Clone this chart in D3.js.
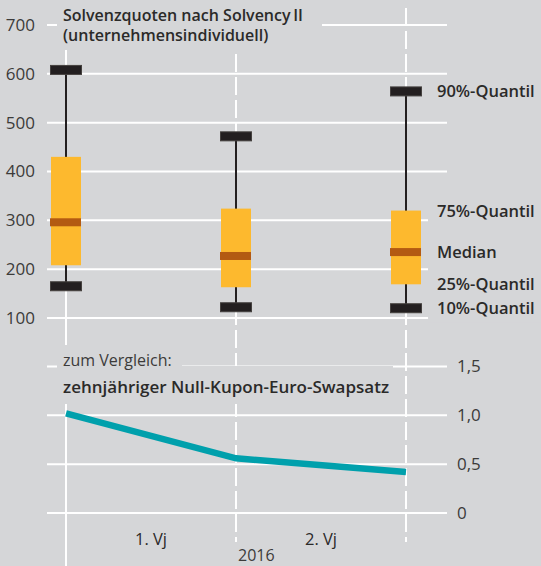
<!DOCTYPE html>
<html>
<head>
<meta charset="utf-8">
<script src="https://cdn.jsdelivr.net/npm/d3@7"></script>
<style>
	body { margin: 0; background: #d5d6d8; }
	svg { display: block; font-family: "Open Sans", "Noto Sans", sans-serif; }
</style>
</head>
<body>
<svg id="vis" width="541" height="566"></svg>
<script>
// Stichtage (Ende des jeweiligen Zeitraums)
const dates = ["01.01.2016", "31.03.2016", "30.06.2016"];

// Solvenzquoten in %, Quantile je Stichtag
const q10 = [165, 122, 120];
const q25 = [208, 163, 169];
const median = [296, 227, 235];
const q75 = [430, 324, 320];
const q90 = [608, 472, 564];

// zehnjaehriger Null-Kupon-Euro-Swapsatz in %
const swap = [1.02, 0.56, 0.42];

const upperTicks = [100, 200, 300, 400, 500, 600, 700];
const lowerTicks = [0, 0.5, 1, 1.5];
const halfYears = ["1. Vj", "2. Vj"];
const quantileLabels = ["90%-Quantil", "75%-Quantil", "Median", "25%-Quantil", "10%-Quantil"];

const bg = "#d5d6d8";
const textColor = "#2b2a29";

let drawChart = function() {
	const svg = d3.select("svg#vis");

	const x = d3.scalePoint()
		.domain(dates)
		.range([66, 406]);

	const y = d3.scaleLinear()
		.domain([100, 700])
		.range([318, 25]);

	const y2 = d3.scaleLinear()
		.domain([0, 1.5])
		.range([513, 366.5]);

	const comma = d3.formatLocale({decimal: ",", thousands: ".", grouping: [3], currency: ["", " €"]});
	const fmt = d => d === 0 ? "0" : comma.format(".1f")(d);

	svg.append("rect")
		.attr("width", 541)
		.attr("height", 566)
		.attr("fill", bg);

	// horizontal grid, upper and lower panel
	const grid = svg.append("g").attr("stroke", "#fff").attr("stroke-width", 2);
	grid.selectAll("line.up")
		.data(upperTicks)
		.enter()
		.append("line")
		.attr("class", "up")
		.attr("x1", 47).attr("x2", 447)
		.attr("y1", d => y(d)).attr("y2", d => y(d));
	grid.selectAll("line.low")
		.data(lowerTicks)
		.enter()
		.append("line")
		.attr("class", "low")
		.attr("x1", 47).attr("x2", 447)
		.attr("y1", d => y2(d)).attr("y2", d => y2(d));

	// vertical separators (first one solid)
	grid.selectAll("line.v")
		.data(dates)
		.enter()
		.append("line")
		.attr("class", "v")
		.attr("x1", d => x(d)).attr("x2", d => x(d))
		.attr("y1", 8)
		.attr("y2", (d, i) => i === 0 ? 566 : 542)
		.attr("stroke-dasharray", (d, i) => i === 0 ? null : "18,5");

	// backgrounds behind texts, they cut the grid
	const masks = svg.append("g").attr("fill", bg);
	masks.append("rect").attr("x", 57).attr("y", 0).attr("width", 265).attr("height", 50);
	masks.append("rect").attr("x", 57).attr("y", 345).attr("width", 125).attr("height", 28);
	masks.append("rect").attr("x", 57).attr("y", 366).attr("width", 336).attr("height", 38);
	const last = dates.length - 1;
	masks.append("rect")
		.attr("x", 428)
		.attr("y", y(q75[last]) - 14)
		.attr("width", 113)
		.attr("height", y(q10[last]) - y(q75[last]) + 28);

	// swap rate line
	const line = d3.line()
		.x((d, i) => x(dates[i]))
		.y(d => y2(d));
	svg.append("path")
		.datum(swap)
		.attr("d", line)
		.attr("fill", "none")
		.attr("stroke", "#00a0ac")
		.attr("stroke-width", 6.5);

	// box plots
	const boxes = svg.append("g")
		.selectAll("g.box")
		.data(dates)
		.enter()
		.append("g")
		.attr("class", "box")
		.attr("transform", d => translate(x(d), 0));

	boxes.append("line")
		.attr("y1", (d, i) => y(q10[i]))
		.attr("y2", (d, i) => y(q90[i]))
		.attr("stroke", "#231f20")
		.attr("stroke-width", 2);

	boxes.append("rect")
		.attr("x", -15)
		.attr("width", 30)
		.attr("y", (d, i) => y(q75[i]))
		.attr("height", (d, i) => y(q25[i]) - y(q75[i]))
		.attr("fill", "#fdb92e");

	boxes.append("rect")
		.attr("x", -16)
		.attr("width", 31)
		.attr("y", (d, i) => y(median[i]) - 4)
		.attr("height", 8)
		.attr("fill", "#b35a12");

	[q10, q90].forEach(function(q) {
		boxes.append("rect")
			.attr("x", -15.5)
			.attr("width", 31)
			.attr("y", (d, i) => y(q[i]) - 4.5)
			.attr("height", 9)
			.attr("fill", "#231f20")
			.attr("stroke", "#45413f")
			.attr("stroke-width", 1);
	});

	// axis labels
	svg.append("g")
		.selectAll("text")
		.data(upperTicks)
		.enter()
		.append("text")
		.attr("x", 35)
		.attr("y", d => y(d))
		.attr("dy", "0.35em")
		.attr("text-anchor", "end")
		.attr("font-size", 17)
		.attr("fill", "#3c3b3a")
		.text(d => d);

	svg.append("g")
		.selectAll("text")
		.data(lowerTicks)
		.enter()
		.append("text")
		.attr("x", 457)
		.attr("y", d => y2(d))
		.attr("dy", "0.35em")
		.attr("font-size", 17)
		.attr("fill", "#3c3b3a")
		.text(d => fmt(d));

	// quantile legend next to the last box
	const legendValues = [q90[last], q75[last], median[last], q25[last], q10[last]];
	svg.append("g")
		.selectAll("text")
		.data(quantileLabels)
		.enter()
		.append("text")
		.attr("x", 437)
		.attr("y", (d, i) => y(legendValues[i]))
		.attr("dy", "0.36em")
		.attr("font-size", 16.5)
		.attr("font-weight", 600)
		.attr("fill", textColor)
		.text(d => d);

	// titles
	const title = svg.append("text")
		.attr("x", 63)
		.attr("font-size", 16)
		.attr("font-weight", 600)
		.attr("fill", textColor);
	title.append("tspan").attr("x", 63).attr("y", 21).text("Solvenzquoten nach Solvency\u2009II");
	title.append("tspan").attr("x", 63).attr("y", 41).text("(unternehmensindividuell)");

	svg.append("text")
		.attr("x", 63).attr("y", 366)
		.attr("font-size", 16)
		.attr("fill", "#3c3b3a")
		.text("zum Vergleich:");
	svg.append("text")
		.attr("x", 63).attr("y", 393)
		.attr("font-size", 17)
		.attr("font-weight", 600)
		.attr("fill", textColor)
		.text("zehnjähriger Null-Kupon-Euro-Swapsatz");

	// x labels
	svg.append("g")
		.selectAll("text")
		.data(halfYears)
		.enter()
		.append("text")
		.attr("x", (d, i) => (x(dates[i]) + x(dates[i + 1])) / 2)
		.attr("y", 545)
		.attr("text-anchor", "middle")
		.attr("font-size", 16.5)
		.attr("fill", textColor)
		.text(d => d);

	svg.append("text")
		.attr("x", 238).attr("y", 561)
		.attr("font-size", 16)
		.attr("fill", "#3c3b3a")
		.text("2016");
};

//Helper
let translate = function(x, y) {
	return 'translate(' + x + ',' + y + ')';
};

drawChart();
</script>
</body>
</html>
